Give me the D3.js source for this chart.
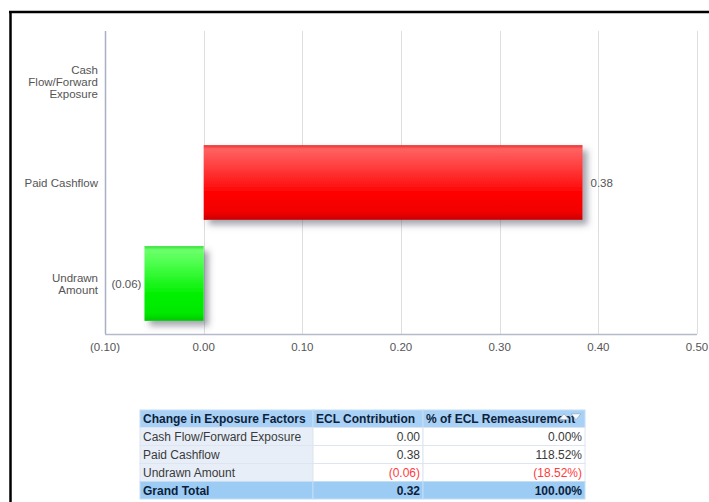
<!DOCTYPE html>
<html>
<head>
<meta charset="utf-8">
<script src="https://cdn.jsdelivr.net/npm/d3@7"></script>
<style>
  html, body { margin: 0; padding: 0; background: #fff; }
  svg { display: block; }
</style>
</head>
<body>
<div id="chart"></div>
<script>
// Chart data
const categories = ['Cash Flow/Forward Exposure', 'Paid Cashflow', 'Undrawn Amount'];
const categoryLines = [['Cash', 'Flow/Forward', 'Exposure'], ['Paid Cashflow'], ['Undrawn', 'Amount']];
const eclValues = [0, 0.384, -0.06];
const eclLabels = ['', '0.38', '(0.06)'];
const xTicks = [-0.1, 0, 0.1, 0.2, 0.3, 0.4, 0.5];

// Table data
const tableHeader = ['Change in Exposure Factors', 'ECL Contribution', '% of ECL Remeasurement'];
const tableRows = [
  ['Cash Flow/Forward Exposure', '0.00', '0.00%'],
  ['Paid Cashflow', '0.38', '118.52%'],
  ['Undrawn Amount', '(0.06)', '(18.52%)']
];
const tableTotal = ['Grand Total', '0.32', '100.00%'];

const W = 709, H = 502;
const margin = { top: 31, right: 12, bottom: 168, left: 105 };

const svg = d3.select('#chart').append('svg')
  .attr('width', W)
  .attr('height', H);

const defs = svg.append('defs');

// bar gradients
const makeGrad = (id, stops) => {
  const g = defs.append('linearGradient')
    .attr('id', id)
    .attr('x1', 0).attr('y1', 0).attr('x2', 0).attr('y2', 1);
  stops.forEach(s => g.append('stop').attr('offset', s[0]).attr('stop-color', s[1]));
};
makeGrad('gradRed', [[0, '#e83030'], [0.05, '#ff6262'], [0.2, '#ff4c4c'], [0.5, '#ff1c1c'], [0.65, '#ff0000'], [0.9, '#f00000'], [1, '#c80000']]);
makeGrad('gradGreen', [[0, '#30e030'], [0.05, '#6cff6c'], [0.2, '#52ff52'], [0.5, '#1cf51c'], [0.65, '#00f000'], [0.9, '#00e800'], [1, '#00c800']]);

const shadow = defs.append('filter')
  .attr('id', 'shadow')
  .attr('x', '-10%').attr('y', '-10%')
  .attr('width', '130%').attr('height', '130%');
shadow.append('feDropShadow')
  .attr('dx', 5).attr('dy', 5)
  .attr('stdDeviation', 3)
  .attr('flood-color', '#4a5060')
  .attr('flood-opacity', 0.5);

const x = d3.scaleLinear()
  .domain([-0.1, 0.5])
  .range([margin.left, W - margin.right]);

const y = d3.scaleBand()
  .domain(categories)
  .range([margin.top, H - margin.bottom])
  .paddingInner(0.26)
  .paddingOuter(0.13);

const plotBottom = H - margin.bottom;

// outer frame
svg.append('line')
  .attr('x1', 9).attr('x2', W).attr('y1', 12).attr('y2', 12)
  .attr('stroke', '#000').attr('stroke-width', 2.5);
svg.append('line')
  .attr('x1', 10.5).attr('x2', 10.5).attr('y1', 11).attr('y2', H)
  .attr('stroke', '#000').attr('stroke-width', 2.5);

// gridlines
svg.append('g')
  .selectAll('line')
  .data(xTicks.slice(1))
  .join('line')
  .attr('x1', d => Math.round(x(d)) + 0.5)
  .attr('x2', d => Math.round(x(d)) + 0.5)
  .attr('y1', margin.top)
  .attr('y2', plotBottom)
  .attr('stroke', '#dedede');

// bars
svg.append('g')
  .selectAll('rect')
  .data(categories.map((c, i) => ({ c, v: eclValues[i] })).filter(d => d.v !== 0))
  .join('rect')
  .attr('x', d => x(Math.min(0, d.v)))
  .attr('width', d => Math.abs(x(d.v) - x(0)))
  .attr('y', d => y(d.c))
  .attr('height', y.bandwidth())
  .attr('fill', d => d.v >= 0 ? 'url(#gradRed)' : 'url(#gradGreen)')
  .attr('filter', 'url(#shadow)');

// axes lines
svg.append('line')
  .attr('x1', margin.left + 0.5).attr('x2', margin.left + 0.5)
  .attr('y1', margin.top).attr('y2', plotBottom)
  .attr('stroke', '#a8b0c4').attr('stroke-width', 1.5);
svg.append('line')
  .attr('x1', margin.left).attr('x2', W - margin.right)
  .attr('y1', plotBottom + 0.5).attr('y2', plotBottom + 0.5)
  .attr('stroke', '#b4bacb').attr('stroke-width', 1.5);

// x tick labels
const fmt = d => d < 0 ? '(' + d3.format('.2f')(-d) + ')' : d3.format('.2f')(d);
svg.append('g')
  .selectAll('text')
  .data(xTicks)
  .join('text')
  .attr('x', d => x(d))
  .attr('y', plotBottom + 17)
  .attr('text-anchor', 'middle')
  .attr('font-family', 'Liberation Sans, Arial, sans-serif')
  .attr('font-size', 11.5)
  .attr('fill', '#555')
  .text(fmt);

// y category labels
const yLab = svg.append('g')
  .selectAll('text')
  .data(categories)
  .join('text')
  .attr('text-anchor', 'end')
  .attr('font-family', 'Liberation Sans, Arial, sans-serif')
  .attr('font-size', 11.5)
  .attr('fill', '#555');
yLab.each(function(d, i) {
  const lines = categoryLines[i];
  const cy = y(d) + y.bandwidth() / 2;
  const start = cy - (lines.length - 1) * 6 + 4;
  d3.select(this).selectAll('tspan')
    .data(lines)
    .join('tspan')
    .attr('x', 98)
    .attr('y', (l, j) => start + j * 12)
    .text(l => l);
});

// data labels
svg.append('g')
  .selectAll('text')
  .data(categories.map((c, i) => ({ c, v: eclValues[i], l: eclLabels[i] })).filter(d => d.l))
  .join('text')
  .attr('x', d => d.v >= 0 ? x(d.v) + 8 : x(d.v) - 3)
  .attr('y', d => y(d.c) + y.bandwidth() / 2 + 4)
  .attr('text-anchor', d => d.v >= 0 ? 'start' : 'end')
  .attr('font-family', 'Liberation Sans, Arial, sans-serif')
  .attr('font-size', 11.5)
  .attr('fill', '#555')
  .text(d => d.l);

// pivot table
const colX = [140, 313, 423, 585];
const rowY = [410, 427.5, 445.5, 463.5, 481.5, 499];
const tbl = svg.append('g').attr('font-family', 'Liberation Sans, Arial, sans-serif').attr('font-size', 12);

const allRows = [tableHeader].concat(tableRows).concat([tableTotal]);
allRows.forEach((row, r) => {
  row.forEach((cell, c) => {
    const isHead = r === 0;
    const isTotal = r === allRows.length - 1;
    let bg = '#ffffff';
    if (isHead) bg = '#a9d1f5';
    else if (isTotal) bg = '#9ccbf4';
    else if (c === 0) bg = '#e7eef8';
    tbl.append('rect')
      .attr('x', colX[c])
      .attr('y', rowY[r])
      .attr('width', colX[c + 1] - colX[c])
      .attr('height', rowY[r + 1] - rowY[r])
      .attr('fill', bg)
      .attr('stroke', isHead || isTotal ? '#c4def6' : '#dde6f0')
      .attr('stroke-width', 1);
  });
});

defs.append('clipPath').attr('id', 'clipHead')
  .append('rect')
  .attr('x', colX[2]).attr('y', rowY[0])
  .attr('width', colX[3] - colX[2] - 2).attr('height', rowY[1] - rowY[0]);

allRows.forEach((row, r) => {
  const isHead = r === 0;
  const isTotal = r === allRows.length - 1;
  row.forEach((cell, c) => {
    const neg = cell.startsWith('(');
    const t = tbl.append('text')
      .attr('y', (rowY[r] + rowY[r + 1]) / 2 + 4.5)
      .attr('font-weight', isHead || isTotal ? 'bold' : 'normal')
      .attr('fill', isHead || isTotal ? '#0d1f3c' : (neg ? '#ff3b3b' : '#3a3a3a'))
      .text(cell);
    if (isHead || c === 0) {
      t.attr('x', colX[c] + 3).attr('text-anchor', 'start');
    } else {
      t.attr('x', colX[c + 1] - 3).attr('text-anchor', 'end');
    }
    if (isHead && c === 2) t.attr('clip-path', 'url(#clipHead)');
  });
});

// sort arrows in last header cell
const arrowY = (rowY[0] + rowY[1]) / 2;
tbl.append('path')
  .attr('d', `M${colX[3] - 26},${arrowY + 1} l5,-6 l5,6 Z`)
  .attr('fill', '#f4f8fc').attr('stroke', '#8aa0b8').attr('stroke-width', 0.6);
tbl.append('path')
  .attr('d', `M${colX[3] - 14},${arrowY - 5} l10,0 l-5,6 Z`)
  .attr('fill', '#f4f8fc').attr('stroke', '#8aa0b8').attr('stroke-width', 0.6);
</script>
</body>
</html>
